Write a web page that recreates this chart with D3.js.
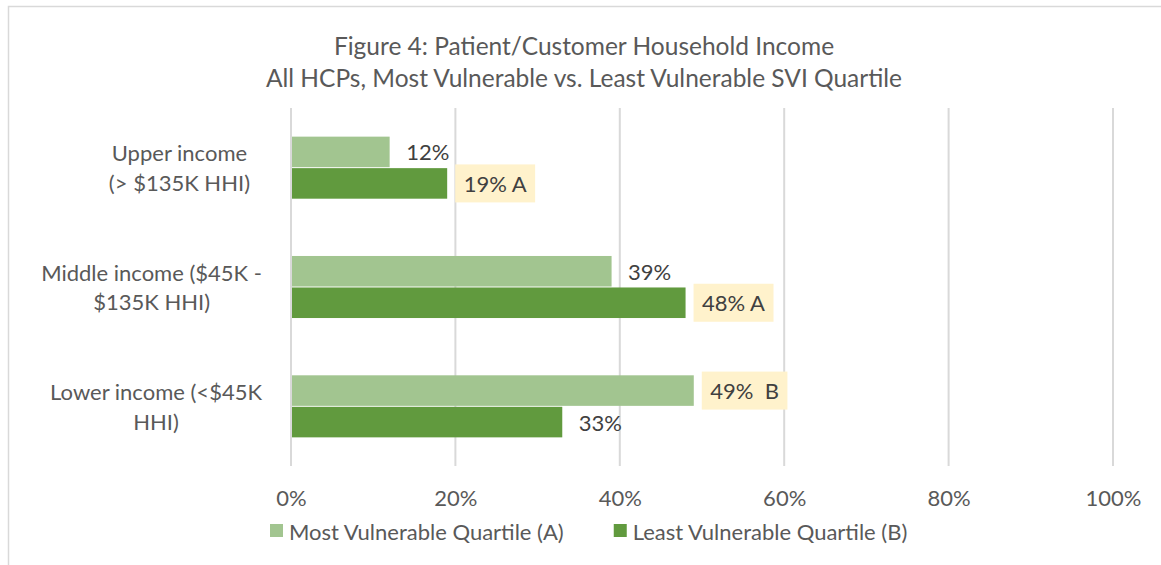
<!DOCTYPE html>
<html>
<head>
<meta charset="utf-8">
<script src="https://cdn.jsdelivr.net/npm/d3@7"></script>
<style>
  html, body { margin: 0; padding: 0; background: #fff; }
  svg { display: block; font-family: Lato, "Open Sans", sans-serif; }
</style>
</head>
<body>
<svg id="chart" width="1161" height="565"></svg>
<script>
// ---- data ----
const titleLines = ["Figure 4: Patient/Customer Household Income",
                    "All HCPs, Most Vulnerable vs. Least Vulnerable SVI Quartile"];
const categories = ["Upper", "Middle", "Lower"];
const categoryLines = [["Upper income", "(> $135K HHI)"],
                       ["Middle income ($45K -", "$135K HHI)"],
                       ["Lower income (<$45K", "HHI)"]];
const seriesNames = ["Most Vulnerable Quartile (A)", "Least Vulnerable Quartile (B)"];
const mostVulnerable = [0.12, 0.39, 0.49];
const leastVulnerable = [0.19, 0.48, 0.33];
const mostLabels = ["12%", "39%", "49%\u00A0\u00A0B"];
const leastLabels = ["19% A", "48% A", "33%"];
const mostHighlight = [false, false, true];
const leastHighlight = [true, true, false];
const tickValues = [0, 0.2, 0.4, 0.6, 0.8, 1.0];

// ---- style / layout ----
const colors = ["#A2C590", "#619A3E"];
const textColor = "#595959";
const labelColor = "#404040";
const gridColor = "#D9D9D9";
const highlightFill = "#FFF2CC";
const labelRight = [250, 262, 262];
const fontSize = "22px";

const svg = d3.select("#chart");

// chart border
svg.append("rect").attr("x", 8.5).attr("y", 6.5).attr("width", 1300).attr("height", 700)
  .attr("fill", "none").attr("stroke", gridColor).attr("stroke-width", 1.5);

const x = d3.scaleLinear().domain([0, 1]).range([291, 1113]);
const y = d3.scaleBand().domain(categories).range([108, 466]).paddingInner(0.48).paddingOuter(0.24);
const inner = d3.scaleBand().domain([0, 1]).range([0, y.bandwidth()]).paddingInner(0.03);

// title
svg.append("g").selectAll("text").data(titleLines).join("text")
  .attr("x", 584).attr("y", (d, i) => 45 + i * 32)
  .attr("text-anchor", "middle").attr("dominant-baseline", "central")
  .attr("fill", textColor).style("font-size", "24.5px").text(d => d);

// grid
const xAxis = d3.axisBottom(x).tickValues(tickValues).tickFormat(d3.format(".0%")).tickSize(0).tickPadding(0);
svg.append("g").attr("class", "grid").selectAll("line").data(tickValues).join("line")
  .attr("x1", d => x(d)).attr("x2", d => x(d)).attr("y1", 108).attr("y2", 466)
  .attr("stroke", gridColor).attr("stroke-width", 2);

const axisG = svg.append("g").attr("transform", "translate(0,498)").call(xAxis);
axisG.select(".domain").remove();
axisG.selectAll("text").attr("fill", textColor).style("font-size", fontSize)
  .attr("dy", "0.35em").style("font-family", "Lato, sans-serif");

// bars
const series = [mostVulnerable, leastVulnerable];
const labels = [mostLabels, leastLabels];
const highlights = [mostHighlight, leastHighlight];

series.forEach((vals, s) => {
  const g = svg.append("g");
  g.selectAll("rect").data(vals).join("rect")
    .attr("x", x(0) + 1)
    .attr("y", (d, i) => y(categories[i]) + inner(s))
    .attr("width", d => x(d) - x(0) - 1)
    .attr("height", inner.bandwidth())
    .attr("fill", colors[s]);

  const lg = svg.append("g");
  vals.forEach((v, i) => {
    const cy = y(categories[i]) + inner(s) + inner.bandwidth() / 2;
    const tx = x(v) + 16.5;
    const t = lg.append("text").attr("x", tx).attr("y", cy)
      .attr("dominant-baseline", "central").attr("fill", labelColor)
      .style("font-size", fontSize).text(labels[s][i]);
    if (highlights[s][i]) {
      const w = t.node().getComputedTextLength();
      lg.insert("rect", "text").attr("x", tx - 8.5).attr("y", cy - 19)
        .attr("width", w + 17).attr("height", 38).attr("fill", highlightFill);
    }
  });
});

// category labels
categoryLines.forEach((lines, i) => {
  const cy = y(categories[i]) + y.bandwidth() / 2;
  const g = svg.append("g");
  const texts = g.selectAll("text").data(lines).join("text")
    .attr("y", (d, j) => cy + (j - (lines.length - 1) / 2) * 29.5)
    .attr("dominant-baseline", "central").attr("text-anchor", "middle")
    .attr("fill", textColor).style("font-size", fontSize).text(d => d);
  const maxW = d3.max(texts.nodes(), n => n.getComputedTextLength());
  texts.attr("x", labelRight[i] - maxW / 2);
});

// legend
const legend = svg.append("g").attr("transform", "translate(270,531)");
let lx = 0;
seriesNames.forEach((name, s) => {
  const g = legend.append("g").attr("transform", `translate(${lx},0)`);
  g.append("rect").attr("x", 0).attr("y", -7).attr("width", 13).attr("height", 13).attr("fill", colors[s]);
  const t = g.append("text").attr("x", 19).attr("y", 0).attr("dominant-baseline", "central")
    .attr("fill", textColor).style("font-size", fontSize).text(name);
  lx += 19 + t.node().getComputedTextLength() + 50;
});
</script>
</body>
</html>
